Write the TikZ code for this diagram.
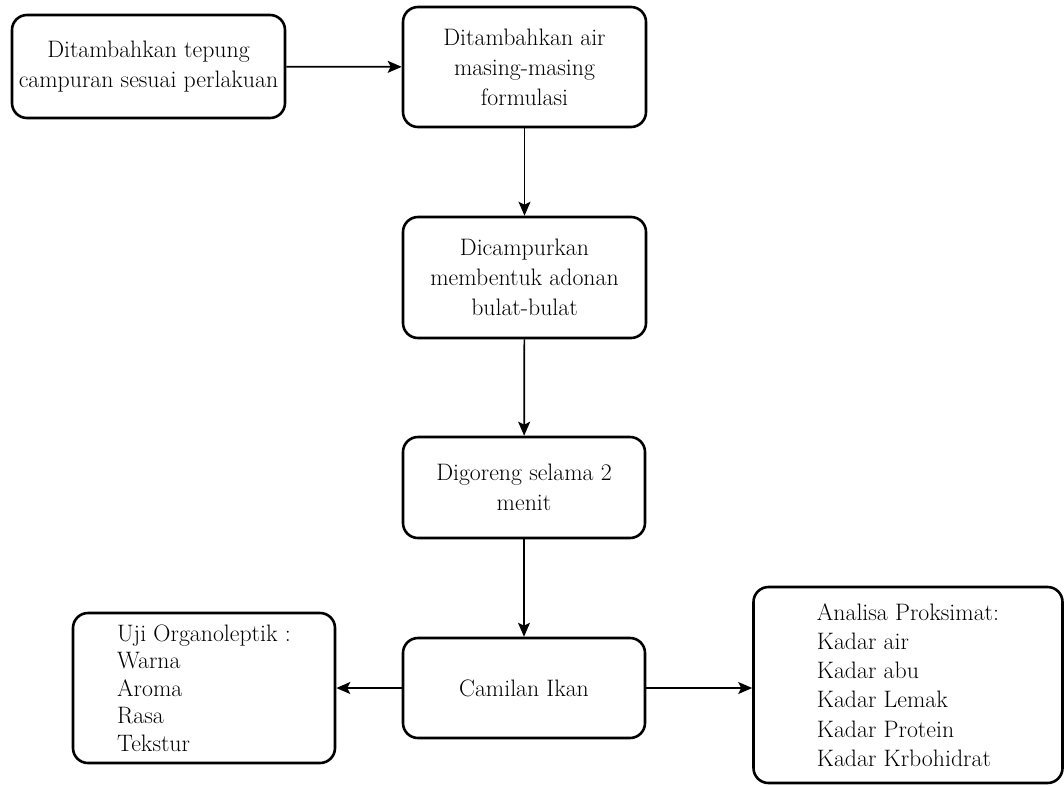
\documentclass[tikz,border=0pt]{standalone}
\usetikzlibrary{arrows.meta}
\tikzstyle{flowChart} = [x = 1pt, y = -1pt]
\tikzstyle{stepBox} = [draw, line width = 2.6pt, rounded corners = 15pt, inner sep = 0pt, align = center, font = \fontsize{23.8}{30}\selectfont]
\tikzstyle{listBox} = [stepBox, align = left, font = \fontsize{23.8}{27.5}\selectfont]
\tikzstyle{flowArrow} = [line width = 1.7pt, -{Stealth[length = 14pt, width = 12pt, inset = 3pt]}]

\begin{document}
\begin{tikzpicture}[flowChart]
      \useasboundingbox (0, 0) rectangle (1064, 785);

      \node [stepBox, minimum width = 273pt, minimum height = 103pt] (tepung) at (148.5, 66.5) {Ditambahkan tepung\\campuran sesuai perlakuan};
      \node [stepBox, minimum width = 243pt, minimum height = 120pt] (air) at (524.5, 67) {Ditambahkan air\\masing-masing\\formulasi};
      \node [stepBox, minimum width = 243pt, minimum height = 121pt] (campur) at (524.5, 277.5) {Dicampurkan\\membentuk adonan\\bulat-bulat};
      \node [stepBox, minimum width = 242pt, minimum height = 101pt] (goreng) at (524, 487.5) {Digoreng selama 2\\menit};
      \node [stepBox, minimum width = 242pt, minimum height = 100pt] (camilan) at (524, 688) {Camilan Ikan};

      % hasil uji
      \node [listBox, minimum width = 262pt, minimum height = 150pt] (uji) at (204, 688) {Uji Organoleptik :\\Warna\\Aroma\\Rasa\\Tekstur};
      \node [listBox, minimum width = 309pt, minimum height = 196pt, font = \fontsize{23.8}{29.3}\selectfont] (analisa) at (908, 685) {Analisa Proksimat:\\Kadar air\\Kadar abu\\Kadar Lemak\\Kadar Protein\\Kadar Krbohidrat};

      \draw [flowArrow] (tepung) -- (air);
      \draw [flowArrow] (air) -- (campur);
      \draw [flowArrow] (campur) -- (goreng);
      \draw [flowArrow] (goreng) -- (camilan);
      \draw [flowArrow] (camilan) -- (uji);
      \draw [flowArrow] (camilan.east) -- (analisa.west |- camilan.east);
\end{tikzpicture}
\end{document}
